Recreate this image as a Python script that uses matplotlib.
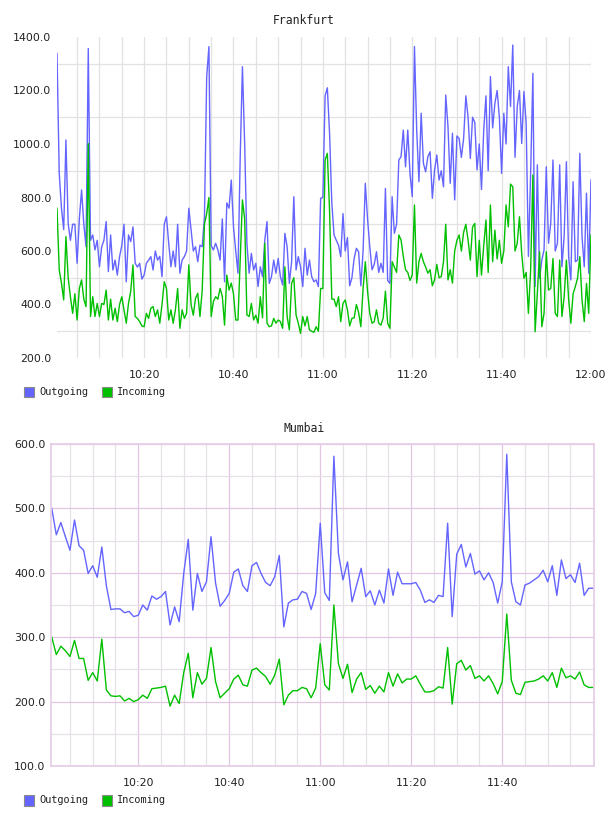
import matplotlib
matplotlib.use("Agg")
import matplotlib.pyplot as plt
import matplotlib.dates as mdates
from matplotlib.patches import Rectangle
import pandas as pd

# Frankfurt, one sample every 30 s from 10:00:30
frankfurt_out = [
    1339, 890, 760, 680, 1015, 703, 640, 700, 700, 554,
    720, 828, 700, 616, 1357, 640, 660, 604, 640, 541,
    616, 640, 710, 523, 660, 529, 566, 510, 579, 620,
    700, 485, 660, 635, 690, 554, 540, 554, 495, 510,
    554, 566, 579, 529, 600, 566, 580, 504, 700, 728,
    629, 541, 600, 541, 700, 517, 566, 579, 600, 760,
    680, 600, 616, 560, 622, 616, 728, 1252, 1364, 620,
    604, 629, 604, 566, 720, 485, 780, 760, 865, 690,
    600, 517, 950, 1289, 1000, 629, 517, 591, 529, 554,
    467, 541, 504, 641, 710, 479, 504, 566, 517, 572,
    504, 473, 666, 616, 479, 560, 803, 529, 579, 541,
    467, 610, 510, 566, 504, 485, 492, 467, 797, 800,
    1180, 1210, 1040, 780, 660, 640, 622, 579, 740, 600,
    650, 470, 500, 572, 610, 597, 470, 600, 853, 720,
    616, 530, 550, 597, 520, 554, 520, 834, 490, 479,
    803, 666, 700, 940, 953, 1052, 915, 1052, 890, 803,
    1364, 1052, 859, 1115, 928, 896, 953, 971, 797, 903,
    959, 865, 900, 840, 1183, 1065, 853, 1040, 791,
    1030, 1020, 950, 1020, 1180, 1100, 946, 1100, 1080, 903,
    1000, 830, 1052, 1180, 900, 1252, 1060, 1152, 1200, 1100,
    890, 1115, 1000, 1289, 1140, 1370, 950, 1140, 1200, 1002,
    1196, 1077, 580, 890, 1264, 467, 922, 498, 566, 604,
    915, 629, 703, 940, 600, 629, 922, 541, 654, 934,
    579, 492, 859, 560, 566, 965, 654, 541, 816, 517,
    865,
]
frankfurt_in = [
    760, 529, 480, 417, 654, 500, 429, 367, 440, 342,
    460, 492, 420, 392, 1002, 355, 429, 355, 404, 355,
    404, 400, 454, 342, 420, 342, 386, 336, 400, 429,
    380, 330, 404, 450, 548, 355, 348, 336, 320, 317,
    367, 348, 386, 392, 355, 380, 330, 400, 485, 460,
    342, 380, 330, 380, 460, 311, 380, 348, 367, 548,
    400, 360, 423, 442, 355, 454, 700, 740, 800, 355,
    411, 429, 420, 460, 430, 323, 510, 454, 480, 440,
    342, 342, 566, 791, 720, 361, 355, 404, 342, 360,
    330, 429, 350, 629, 330, 317, 320, 348, 330, 342,
    336, 311, 541, 355, 305, 479, 500, 361, 330, 292,
    355, 320, 355, 305, 300, 296, 317, 300, 460, 460,
    940, 965, 750, 420, 420, 392, 429, 336, 404, 417,
    380, 320, 348, 350, 400, 370, 317, 460, 560, 450,
    367, 330, 336, 380, 330, 323, 350, 450, 330, 311,
    560, 540, 520, 660, 641, 580, 530, 520, 490, 510,
    772, 480, 560, 591, 560, 540, 517, 530, 470, 492,
    550, 500, 504, 560, 700, 492, 530, 480, 600,
    640, 660, 600, 670, 700, 640, 566, 690, 703, 504,
    640, 510, 620, 716, 520, 772, 560, 678, 570, 640,
    554, 600, 772, 690, 850, 840, 600, 629, 728, 591,
    498, 520, 367, 529, 884, 298, 442, 597, 317, 367,
    597, 454, 460, 572, 367, 355, 566, 355, 429, 566,
    420, 330, 440, 467, 498, 579, 417, 336, 479, 367,
    660,
]

# Mumbai, one sample per minute from 10:01
mumbai_out = [
    500, 459, 478, 456, 435, 482, 442, 435, 399, 411,
    393, 440, 380, 343, 344, 344, 338, 340, 332, 334,
    350, 342, 364, 359, 363, 371, 319, 347, 324, 399,
    452, 342, 399, 371, 386, 456, 384, 348, 357, 368,
    401, 406, 380, 371, 411, 416, 399, 385, 380, 394,
    427, 316, 353, 358, 359, 371, 368, 343, 368, 477,
    369, 357, 581, 430, 389, 417, 355, 381, 407, 363,
    372, 350, 373, 353, 406, 365, 401, 383, 383, 383,
    385, 373, 354, 358, 354, 365, 363, 477, 332, 429,
    444, 409, 430, 398, 403, 389, 400, 385, 353, 386,
    584, 386, 355, 350, 381, 384, 389, 394, 404, 386,
    411, 365, 420, 391, 397, 385, 415, 365, 376, 376,
]
mumbai_in = [
    300, 273, 286, 279, 270, 295, 267, 267, 233, 245,
    232, 297, 218, 209, 208, 209, 201, 205, 200, 203,
    210, 205, 220, 221, 222, 224, 193, 210, 197, 245,
    275, 206, 245, 227, 236, 284, 231, 206, 213, 220,
    235, 241, 226, 224, 249, 252, 245, 239, 227, 241,
    266, 195, 210, 217, 217, 222, 220, 206, 221, 290,
    226, 218, 350, 259, 236, 258, 214, 235, 245, 219,
    225, 213, 224, 215, 245, 224, 243, 229, 235, 235,
    240, 227, 215, 215, 217, 223, 221, 284, 196, 259,
    264, 249, 256, 236, 240, 232, 240, 228, 212, 231,
    336, 233, 213, 211, 230, 231, 232, 235, 240, 232,
    245, 222, 252, 237, 240, 235, 246, 226, 222, 222,
]

frankfurt_ticks = [200, 400, 600, 800, 1000, 1200, 1400]
frankfurt_grid = [300, 500, 700, 900, 1100, 1300]
mumbai_ticks = [100, 200, 300, 400, 500, 600]
mumbai_grid = [150, 250, 350, 450, 550]
series_names = ["Outgoing", "Incoming"]

BLUE = "#6464ff"
GREEN = "#00c000"
TEXT = "#222222"
MONO = "DejaVu Sans Mono"

day = "2013-01-01 "
fr_time = pd.date_range(day + "10:00:30", periods=len(frankfurt_out), freq="30s")
mu_time = pd.date_range(day + "10:01:00", periods=len(mumbai_out), freq="60s")

fig = plt.figure(figsize=(6.08, 8.16), dpi=100)
W, H = 608.0, 816.0


def px_axes(left, top, right, bottom):
    return fig.add_axes([left / W, 1 - bottom / H, (right - left) / W, (bottom - top) / H])


def style_time_axis(ax, label_minutes, grid_minutes):
    ax.xaxis.set_major_locator(mdates.MinuteLocator(byminute=label_minutes))
    ax.xaxis.set_minor_locator(mdates.MinuteLocator(byminute=grid_minutes))
    ax.xaxis.set_major_formatter(mdates.DateFormatter("%H:%M"))
    ax.tick_params(axis="both", which="both", length=0, labelsize=7.9, colors=TEXT)
    ax.tick_params(axis="x", pad=9)
    ax.tick_params(axis="y", pad=4)


def legend(y):
    for (x, color), name in zip([(24, BLUE), (102, GREEN)], series_names):
        fig.patches.append(Rectangle((x / W, 1 - (y + 5.5) / H), 10 / W, 11 / H,
                                     transform=fig.transFigure, facecolor=color,
                                     edgecolor="#8a8a8a", linewidth=0.8))
        fig.text((x + 15) / W, 1 - y / H, name, fontsize=7.4, family=MONO,
                 color=TEXT, va="center", ha="left")


# ---- Frankfurt ----
ax1 = px_axes(57, 37, 591, 358)
ax1.plot(fr_time, frankfurt_out, color=BLUE, lw=1.0)
ax1.plot(fr_time, frankfurt_in, color=GREEN, lw=1.0)
ax1.set_xlim(pd.Timestamp(day + "10:00:30"), pd.Timestamp(day + "12:00:00.5"))
ax1.set_ylim(200, 1400)
ax1.set_yticks(frankfurt_ticks)
ax1.set_yticks(frankfurt_grid, minor=True)
ax1.yaxis.set_major_formatter(matplotlib.ticker.FormatStrFormatter("%.1f"))
style_time_axis(ax1, [0, 20, 40], range(0, 60, 5))
ax1.grid(True, axis="x", which="both", color="#e2e2e2", lw=0.9)
ax1.grid(True, axis="y", which="minor", color="#e2e2e2", lw=0.9)
ax1.set_axisbelow(True)
for s in ax1.spines.values():
    s.set_visible(False)
fig.text(0.5, 1 - 20 / H, "Frankfurt", ha="center", va="center", fontsize=8.3,
         family=MONO, color=TEXT)
legend(392)

# ---- Mumbai ----
ax2 = px_axes(51, 444, 594, 766)
ax2.plot(mu_time, mumbai_out, color=BLUE, lw=1.0)
ax2.plot(mu_time, mumbai_in, color=GREEN, lw=1.0)
ax2.set_xlim(pd.Timestamp(day + "10:00:50"), pd.Timestamp(day + "12:00:10"))
ax2.set_ylim(100, 600)
ax2.set_yticks(mumbai_ticks)
ax2.set_yticks(mumbai_grid, minor=True)
ax2.yaxis.set_major_formatter(matplotlib.ticker.FormatStrFormatter("%.1f"))
# 12:00 sits on the frame, so neither label nor grid line there
style_time_axis(ax2, [20, 40], [5, 10, 15, 25, 30, 35, 45, 50, 55])
ax2.set_xticks([pd.Timestamp(day + h) for h in ["10:20", "10:40", "11:00", "11:20", "11:40"]])
ax2.xaxis.set_major_formatter(mdates.DateFormatter("%H:%M"))
ax2.grid(True, which="major", color="#e0c6e0", lw=0.9)
ax2.grid(True, which="minor", color="#e8e0e8", lw=0.9)
ax2.set_axisbelow(True)
for s in ax2.spines.values():
    s.set_color("#e6cfe6")
    s.set_linewidth(1.3)
fig.text(0.5, 1 - 429 / H, "Mumbai", ha="center", va="center", fontsize=8.3,
         family=MONO, color=TEXT)
legend(800)

fig.savefig("out.png", dpi=100)
